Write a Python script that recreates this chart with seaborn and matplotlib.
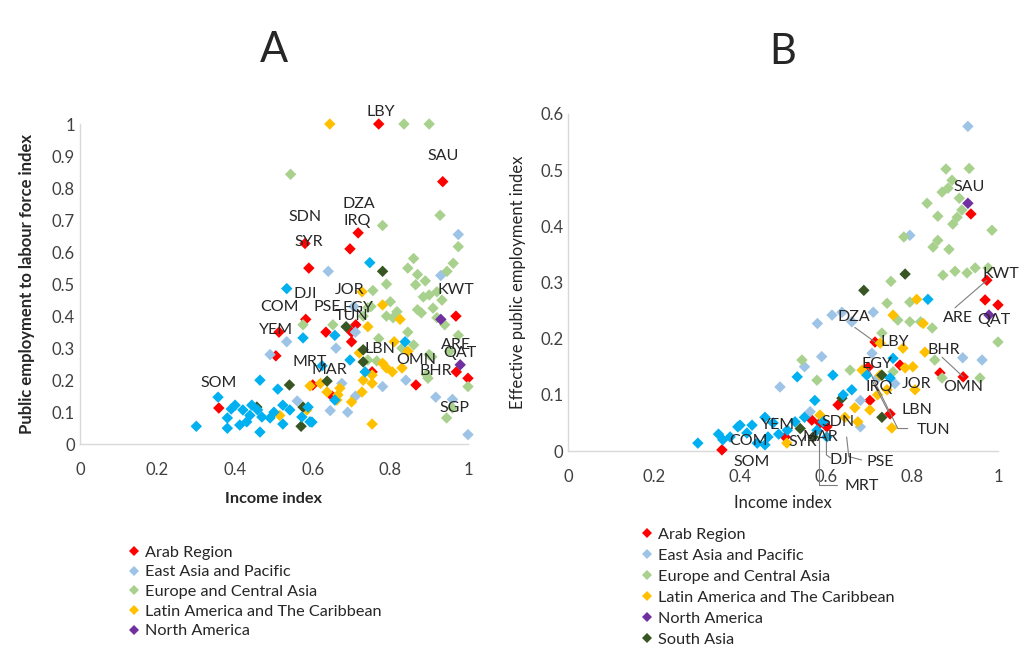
import matplotlib
matplotlib.use("Agg")
import matplotlib.pyplot as plt
from matplotlib.lines import Line2D
import seaborn as sns
import pandas as pd

FONT = "Lato"
FONT_SIZE = 12

REGIONS = [
    "Arab Region",
    "East Asia and Pacific",
    "Europe and Central Asia",
    "Latin America and The Caribbean",
    "North America",
    "South Asia",
    "Sub-Saharan Africa",
]
COLORS = ["#FF0000", "#9DC3E6", "#A9D18E", "#FFC000", "#7030A0", "#375623", "#00B0F0"]

# ---- panel A: income index vs public employment to labour force index ----
a_arab = [(0.77, 1.0), (0.935, 0.82), (0.717, 0.66), (0.696, 0.61), (0.58, 0.627),
          (0.59, 0.55), (0.582, 0.39), (0.513, 0.35), (0.505, 0.276), (0.634, 0.35),
          (0.70, 0.32), (0.711, 0.373), (0.70, 0.35), (0.969, 0.40), (0.97, 0.226),
          (1.0, 0.206), (0.866, 0.185), (0.60, 0.185), (0.65, 0.15), (0.358, 0.113),
          (0.753, 0.226)]
a_eap = [(0.975, 0.655), (0.64, 0.54), (0.93, 0.527), (0.706, 0.43), (0.533, 0.32),
         (0.49, 0.28), (0.71, 0.35), (0.66, 0.30), (0.675, 0.19), (0.71, 0.15),
         (0.56, 0.135), (0.78, 0.18), (0.84, 0.20), (0.917, 0.147), (0.96, 0.14),
         (1.0, 0.03), (0.645, 0.105), (0.69, 0.10)]
a_eca = [(0.835, 1.0), (0.90, 1.0), (0.543, 0.843), (0.928, 0.715), (0.78, 0.683),
         (0.975, 0.617), (0.962, 0.565), (0.86, 0.58), (0.845, 0.55), (0.87, 0.53),
         (0.89, 0.51), (0.946, 0.54), (0.79, 0.50), (0.865, 0.498), (0.90, 0.466),
         (0.885, 0.46), (0.92, 0.476), (0.933, 0.45), (0.87, 0.42), (0.91, 0.425),
         (0.755, 0.48), (0.80, 0.445), (0.817, 0.414), (0.79, 0.40), (0.742, 0.426),
         (0.73, 0.40), (0.652, 0.373), (0.92, 0.395), (0.94, 0.373), (0.845, 0.35),
         (0.807, 0.395), (0.575, 0.373), (0.75, 0.43), (0.88, 0.41), (0.975, 0.34),
         (0.86, 0.31), (0.907, 0.273), (0.953, 0.29), (0.897, 0.206), (0.96, 0.113),
         (0.945, 0.082), (1.0, 0.18), (0.765, 0.26), (0.90, 0.28), (0.893, 0.217),
         (0.742, 0.263), (0.77, 0.33), (0.83, 0.30)]
a_lac = [(0.644, 1.0), (0.727, 0.476), (0.78, 0.435), (0.825, 0.39), (0.742, 0.367),
         (0.81, 0.32), (0.845, 0.29), (0.72, 0.285), (0.78, 0.253), (0.805, 0.226),
         (0.83, 0.238), (0.79, 0.238), (0.753, 0.216), (0.73, 0.20), (0.67, 0.175),
         (0.637, 0.163), (0.593, 0.182), (0.662, 0.138), (0.70, 0.132), (0.727, 0.163),
         (0.515, 0.09), (0.753, 0.063), (0.585, 0.107), (0.665, 0.154), (0.753, 0.19),
         (0.62, 0.19)]
a_na = [(0.93, 0.39), (0.98, 0.248)]
a_sa = [(0.78, 0.54), (0.686, 0.367), (0.73, 0.295), (0.73, 0.257), (0.637, 0.197),
        (0.54, 0.185), (0.456, 0.116), (0.575, 0.116), (0.57, 0.056)]
a_ssa = [(0.533, 0.486), (0.747, 0.567), (0.657, 0.34), (0.838, 0.32), (0.575, 0.332),
         (0.696, 0.263), (0.624, 0.245), (0.735, 0.226), (0.657, 0.138), (0.464, 0.20),
         (0.51, 0.172), (0.356, 0.147), (0.30, 0.056), (0.38, 0.05), (0.464, 0.038),
         (0.593, 0.07), (0.523, 0.063), (0.40, 0.122), (0.42, 0.107), (0.443, 0.122),
         (0.458, 0.107), (0.38, 0.082), (0.412, 0.06), (0.438, 0.09), (0.469, 0.085),
         (0.49, 0.082), (0.523, 0.122), (0.541, 0.107), (0.588, 0.116), (0.598, 0.069),
         (0.572, 0.085), (0.39, 0.11), (0.43, 0.07), (0.50, 0.10)]

a_labels = [("LBY", 0.776, 1.036), ("SAU", 0.935, 0.90), ("DZA", 0.719, 0.75),
            ("SDN", 0.58, 0.71), ("IRQ", 0.714, 0.696), ("SYR", 0.59, 0.63),
            ("DJI", 0.582, 0.47), ("JOR", 0.696, 0.483), ("KWT", 0.969, 0.483),
            ("COM", 0.515, 0.43), ("PSE", 0.637, 0.43), ("EGY", 0.716, 0.426),
            ("TUN", 0.70, 0.40), ("YEM", 0.505, 0.357), ("LBN", 0.773, 0.298),
            ("ARE", 0.969, 0.31), ("QAT", 0.98, 0.285), ("MRT", 0.593, 0.257),
            ("OMN", 0.866, 0.263), ("MAR", 0.644, 0.232), ("BHR", 0.918, 0.229),
            ("SOM", 0.358, 0.19), ("SGP", 0.966, 0.113)]

# ---- panel B: income index vs effective public employment index ----
b_arab = [(0.937, 0.422), (0.974, 0.304), (0.97, 0.269), (1.0, 0.26), (0.919, 0.132),
          (0.865, 0.139), (0.714, 0.194), (0.698, 0.149), (0.702, 0.09), (0.749, 0.066),
          (0.628, 0.082), (0.602, 0.043), (0.567, 0.055), (0.358, 0.002), (0.505, 0.025),
          (0.772, 0.153), (0.586, 0.05)]
b_eap = [(0.93, 0.578), (0.795, 0.384), (0.614, 0.242), (0.637, 0.247), (0.66, 0.23),
         (0.71, 0.247), (0.58, 0.227), (0.59, 0.168), (0.55, 0.15), (0.493, 0.114),
         (0.707, 0.174), (0.918, 0.166), (0.963, 0.162), (0.68, 0.09), (0.563, 0.07),
         (0.68, 0.043), (0.72, 0.13), (0.76, 0.12)]
b_eca = [(0.879, 0.502), (0.933, 0.503), (0.893, 0.482), (0.884, 0.468), (0.87, 0.461),
         (0.835, 0.441), (0.916, 0.429), (0.905, 0.416), (0.86, 0.418), (0.895, 0.404),
         (0.986, 0.393), (0.781, 0.381), (0.86, 0.375), (0.849, 0.363), (0.886, 0.359),
         (0.872, 0.313), (0.928, 0.317), (0.947, 0.326), (0.977, 0.326), (0.751, 0.302),
         (0.742, 0.263), (0.795, 0.265), (0.767, 0.233), (0.795, 0.23), (0.847, 0.219),
         (0.73, 0.21), (1.0, 0.194), (0.853, 0.162), (0.958, 0.13), (0.87, 0.13),
         (0.544, 0.162), (0.656, 0.144), (0.579, 0.126), (0.756, 0.141), (0.82, 0.23),
         (0.90, 0.32), (0.91, 0.45)]
b_lac = [(0.811, 0.27), (0.756, 0.242), (0.826, 0.227), (0.726, 0.192), (0.779, 0.183),
         (0.83, 0.176), (0.684, 0.144), (0.726, 0.135), (0.784, 0.148), (0.802, 0.15),
         (0.807, 0.109), (0.742, 0.109), (0.702, 0.073), (0.667, 0.077), (0.674, 0.052),
         (0.753, 0.041), (0.644, 0.06), (0.509, 0.014), (0.586, 0.064), (0.72, 0.10)]
b_na = [(0.93, 0.441), (0.979, 0.242)]
b_sa = [(0.784, 0.315), (0.688, 0.286), (0.73, 0.135), (0.637, 0.094), (0.73, 0.06),
        (0.57, 0.025), (0.54, 0.04)]
b_ssa = [(0.837, 0.27), (0.756, 0.165), (0.749, 0.13), (0.695, 0.135), (0.616, 0.135),
         (0.533, 0.132), (0.66, 0.109), (0.574, 0.09), (0.458, 0.06), (0.395, 0.043),
         (0.302, 0.014), (0.36, 0.02), (0.377, 0.025), (0.416, 0.032), (0.44, 0.014),
         (0.465, 0.025), (0.51, 0.037), (0.528, 0.052), (0.579, 0.037), (0.593, 0.052),
         (0.602, 0.025), (0.477, 0.05), (0.428, 0.046), (0.458, 0.011), (0.40, 0.046),
         (0.35, 0.03), (0.49, 0.03), (0.55, 0.06), (0.64, 0.10)]

b_labels = [("SAU", 0.933, 0.47), ("KWT", 1.007, 0.315), ("ARE", 0.907, 0.237),
            ("QAT", 0.99, 0.233), ("DZA", 0.665, 0.238), ("LBY", 0.76, 0.194),
            ("BHR", 0.874, 0.18), ("EGY", 0.719, 0.155), ("JOR", 0.81, 0.12),
            ("IRQ", 0.723, 0.114), ("OMN", 0.919, 0.114), ("LBN", 0.812, 0.073),
            ("TUN", 0.849, 0.037), ("SDN", 0.628, 0.052), ("YEM", 0.488, 0.046),
            ("MAR", 0.586, 0.025), ("COM", 0.419, 0.018), ("SYR", 0.547, 0.016),
            ("DJI", 0.635, -0.016), ("PSE", 0.726, -0.02), ("SOM", 0.426, -0.02),
            ("MRT", 0.684, -0.062)]
b_leaders = [
    [(0.974, 0.304), (0.90, 0.255)],
    [(0.667, 0.22), (0.714, 0.194)],
    [(0.87, 0.167), (0.919, 0.132)],
    [(0.707, 0.126), (0.745, 0.07)],
    [(0.698, 0.147), (0.767, 0.04), (0.79, 0.04)],
    [(0.601, 0.035), (0.601, -0.007), (0.61, -0.012)],
    [(0.584, 0.035), (0.584, -0.06), (0.625, -0.06)],
    [(0.648, 0.025), (0.653, -0.01), (0.683, -0.016)],
]


def to_frame(groups):
    rows = []
    for region, pts in zip(REGIONS, groups):
        for x, y in pts:
            rows.append({"income": x, "value": y, "region": region})
    return pd.DataFrame(rows)


df_a = to_frame([a_arab, a_eap, a_eca, a_lac, a_na, a_sa, a_ssa])
df_b = to_frame([b_arab, b_eap, b_eca, b_lac, b_na, b_sa, b_ssa])

sns.set_style("white")
plt.rcParams["font.family"] = [FONT, "DejaVu Sans"]

fig = plt.figure(figsize=(10.24, 6.65), dpi=100)
ax_a = fig.add_axes([0.078, 0.332, 0.379, 0.4815])
ax_b = fig.add_axes([0.5547, 0.3218, 0.4199, 0.5068])

palette = dict(zip(REGIONS, COLORS))


def draw(ax, df, labels):
    sns.scatterplot(data=df, x="income", y="value", hue="region", hue_order=REGIONS,
                    palette=palette, marker="D", s=34, linewidth=0, legend=False,
                    ax=ax, clip_on=False, zorder=3)
    for code, x, y in labels:
        ax.text(x, y, code, ha="center", va="center", fontsize=11.5, zorder=5,
                clip_on=False)
    for side in ["top", "right"]:
        ax.spines[side].set_visible(False)
    for side in ["left", "bottom"]:
        ax.spines[side].set_color("#D9D9D9")
        ax.spines[side].set_linewidth(1)
    ax.set_xlim(0, 1)
    ax.set_xticks([0, 0.2, 0.4, 0.6, 0.8, 1.0])
    ax.set_xticklabels(["0", "0.2", "0.4", "0.6", "0.8", "1"])
    ax.tick_params(axis="both", length=0, labelsize=FONT_SIZE, colors="#404040")
    ax.tick_params(axis="x", pad=13)


draw(ax_a, df_a, a_labels)
ax_a.set_ylim(0, 1)
ax_a.set_yticks([i / 10 for i in range(11)])
ax_a.set_yticklabels(["0", "0.1", "0.2", "0.3", "0.4", "0.5", "0.6", "0.7", "0.8", "0.9", "1"])
ax_a.set_xlabel("Income index", fontsize=11.7, fontweight="bold", labelpad=10)
ax_a.set_ylabel("Public employment to labour force index", fontsize=12,
                fontweight="bold", labelpad=12)
ax_a.set_title("A", fontsize=30, pad=45)

draw(ax_b, df_b, b_labels)
for line in b_leaders:
    xs, ys = zip(*line)
    ax_b.plot(xs, ys, color="#7F7F7F", linewidth=0.8, clip_on=False, zorder=4)
ax_b.set_ylim(0, 0.6)
ax_b.set_yticks([i / 10 for i in range(7)])
ax_b.set_yticklabels(["0", "0.1", "0.2", "0.3", "0.4", "0.5", "0.6"])
ax_b.set_xlabel("Income index", fontsize=12, labelpad=7)
ax_b.set_ylabel("Effective public employment index", fontsize=12, labelpad=10)
ax_b.set_title("B", fontsize=30, pad=36)


def handles(n):
    return [Line2D([], [], marker="D", linestyle="", markersize=5,
                   markerfacecolor=c, markeredgewidth=0) for c in COLORS[:n]]


leg_kw = dict(frameon=False, fontsize=11.7, handlelength=0.6, handletextpad=0.4,
              borderpad=0, loc="upper left")
fig.legend(handles(5), REGIONS[:5], bbox_to_anchor=(0.118, 1 - 537 / 665),
           labelspacing=0.33, **leg_kw)
fig.legend(handles(6), REGIONS[:6], bbox_to_anchor=(0.619, 1 - 519 / 665),
           labelspacing=0.41, **leg_kw)

fig.savefig("out.png", dpi=100)
